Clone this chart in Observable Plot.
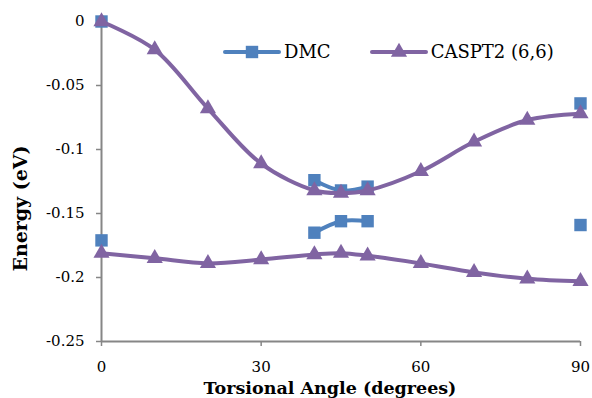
<!DOCTYPE html>
<html>
<head>
<meta charset="utf-8">
<script src="https://cdn.jsdelivr.net/npm/d3@7"></script>
<script src="https://cdn.jsdelivr.net/npm/@observablehq/plot@0.6"></script>
<style>
  html, body { margin: 0; padding: 0; background: #fff; }
  #wrap { position: relative; width: 592px; height: 398px; font-family: "DejaVu Serif", serif; }
  #legend { position: absolute; left: 222px; top: 41px; display: flex; align-items: center; font-size: 18px; color: #000; }
  #legend .item { display: flex; align-items: center; }
  #legend svg { display: block; }
</style>
</head>
<body>
<div id="wrap">
  <div id="chart"></div>
  <div id="legend"></div>
</div>
<script>
// Torsional angle (degrees) for each computed geometry
const casAngles = [0, 10, 20, 30, 40, 45, 50, 60, 70, 80, 90];
// CASPT2 (6,6) energies, two states
const casUpper = [0, -0.022, -0.068, -0.111, -0.132, -0.134, -0.132, -0.117, -0.094, -0.077, -0.072];
const casLower = [-0.181, -0.185, -0.189, -0.186, -0.182, -0.181, -0.183, -0.189, -0.196, -0.201, -0.203];

// DMC energies, sampled only at a few angles
const dmcAngles = [0, 40, 45, 50, 90];
const dmcUpper = [0, -0.124, -0.132, -0.129, -0.064];
const dmcLower = [-0.171, -0.165, -0.156, -0.156, -0.159];

const xTicks = [0, 30, 60, 90];
const yTicks = [0, -0.05, -0.1, -0.15, -0.2, -0.25];

const blue = "#4f81bd";
const purple = "#8064a2";

// Line groups: DMC is only joined across 40–50°
const dmcGroup = a => (a >= 40 && a <= 50 ? "run" : "single" + a);

const cas = [
  ...casAngles.map((a, i) => ({angle: a, energy: casUpper[i], branch: "upper"})),
  ...casAngles.map((a, i) => ({angle: a, energy: casLower[i], branch: "lower"}))
];
const dmc = [
  ...dmcAngles.map((a, i) => ({angle: a, energy: dmcUpper[i], branch: "upper-" + dmcGroup(a)})),
  ...dmcAngles.map((a, i) => ({angle: a, energy: dmcLower[i], branch: "lower-" + dmcGroup(a)}))
];

const font = "'DejaVu Serif', serif";

const chart = Plot.plot({
  width: 592,
  height: 398,
  marginLeft: 101,
  marginRight: 12,
  marginTop: 21,
  marginBottom: 57,
  style: {fontFamily: font, fontSize: "15px", color: "#000", background: "#fff"},
  x: {domain: [0, 90], ticks: xTicks, label: null},
  y: {domain: [-0.25, 0], ticks: yTicks, label: null},
  marks: [
    Plot.axisX({ticks: xTicks, tickSize: 5, tickPadding: 15, stroke: "#868686", strokeWidth: 1.5, fontSize: 15, fontFamily: font, tickFormat: d => String(d), label: null}),
    Plot.axisY({ticks: yTicks, tickSize: 5, tickPadding: 12, stroke: "#868686", strokeWidth: 1.5, fontSize: 15, fontFamily: font, tickFormat: d => String(d), label: null}),
    Plot.ruleY([-0.25], {stroke: "#868686", strokeWidth: 2}),
    Plot.ruleX([0], {stroke: "#868686", strokeWidth: 2}),
    // DMC
    Plot.line(dmc, {x: "angle", y: "energy", z: "branch", stroke: blue, strokeWidth: 4, curve: "catmull-rom"}),
    Plot.dot(dmc, {x: "angle", y: "energy", symbol: "square", r: 7, fill: blue, stroke: null}),
    // CASPT2 (6,6)
    Plot.line(cas, {x: "angle", y: "energy", z: "branch", stroke: purple, strokeWidth: 4, curve: "catmull-rom"}),
    Plot.dot(cas, {x: "angle", y: "energy", symbol: "triangle", r: 6, fill: purple, stroke: null}),
    // axis titles
    Plot.text(["Torsional Angle (degrees)"], {frameAnchor: "bottom", lineAnchor: "middle", dx: -11, dy: 47, fontSize: 17.5, fontWeight: "bold", fontFamily: font, fill: "#000"}),
    Plot.text(["Energy (eV)"], {frameAnchor: "left", textAnchor: "middle", lineAnchor: "middle", dx: -81, dy: 27, rotate: -90, fontSize: 19, fontWeight: "bold", fontFamily: font, fill: "#000"})
  ]
});
document.getElementById("chart").append(chart);

// Legend drawn in the plot area, above the curves
const legendItems = [
  {name: "DMC", color: blue, symbol: d3.symbolSquare, size: Math.PI * 7 * 7, gap: 38},
  {name: "CASPT2 (6,6)", color: purple, symbol: d3.symbolTriangle, size: Math.PI * 6 * 6, gap: 0}
];
const legend = d3.select("#legend");
for (const it of legendItems) {
  const item = legend.append("div").attr("class", "item").style("margin-right", it.gap + "px");
  const svg = item.append("svg").attr("width", 60).attr("height", 20);
  svg.append("line").attr("x1", 3).attr("x2", 57).attr("y1", 10).attr("y2", 10)
    .attr("stroke", it.color).attr("stroke-width", 4).attr("stroke-linecap", "round");
  svg.append("path").attr("transform", "translate(30,10)")
    .attr("d", d3.symbol(it.symbol, it.size)()).attr("fill", it.color);
  item.append("span").text(it.name).style("margin-left", "2px");
}
</script>
</body>
</html>
